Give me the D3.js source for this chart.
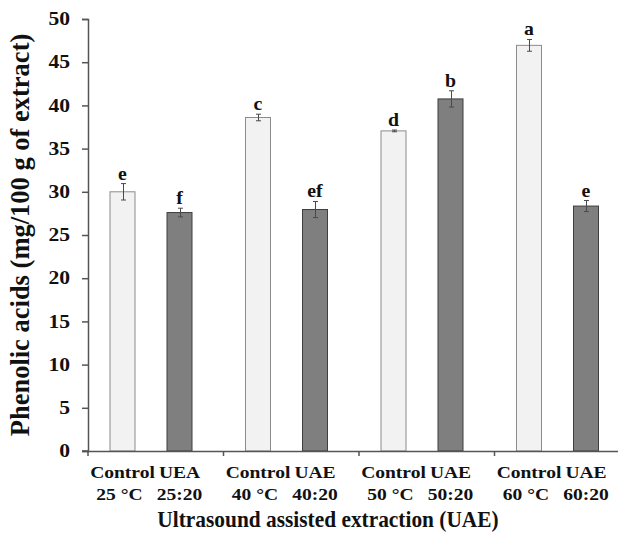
<!DOCTYPE html>
<html><head><meta charset="utf-8">
<script src="https://cdn.jsdelivr.net/npm/d3@7"></script>
<style>
body{margin:0;background:#fff;}
text{font-family:"Liberation Serif","Times New Roman",serif;font-weight:bold;fill:#111;}
</style></head>
<body><svg id="chart" width="618" height="539"></svg>
<script>
const groups = ["25", "40", "50", "60"];
const seriesNames = ["Control", "UAE"];
const line1 = [["Control","UEA"],["Control","UAE"],["Control","UAE"],["Control","UAE"]];
const line2 = [["25 \u00B0C","25:20"],["40 \u00B0C","40:20"],["50 \u00B0C","50:20"],["60 \u00B0C","60:20"]];
const controlValues = [30.0, 38.6, 37.05, 46.95];
const uaeValues = [27.6, 27.95, 40.75, 28.35];
const controlErrors = [0.95, 0.38, 0.1, 0.68];
const uaeErrors = [0.5, 0.93, 0.94, 0.64];
const controlLetters = ["e", "c", "d", "a"];
const uaeLetters = ["f", "ef", "b", "e"];
const yTicks = [0, 5, 10, 15, 20, 25, 30, 35, 40, 45, 50];
const yTitle = "Phenolic acids (mg/100 g of extract)";
const xTitle = "Ultrasound assisted extraction (UAE)";

const svg = d3.select("#chart");
const mLeft = 88, mRight = 630, mTop = 19, mBottom = 451;

const x0 = d3.scaleBand().domain(groups).range([mLeft, mRight]).padding(0);
const x1 = d3.scaleBand().domain(seriesNames).range([22, 104]).paddingInner(32/57).paddingOuter(0);
const y = d3.scaleLinear().domain([0, 50]).range([mBottom, mTop]);

const data = [];
groups.forEach((g, i) => {
  data.push({g, s: "Control", v: controlValues[i], e: controlErrors[i], l: controlLetters[i], t1: line1[i][0], t2: line2[i][0]});
  data.push({g, s: "UAE", v: uaeValues[i], e: uaeErrors[i], l: uaeLetters[i], t1: line1[i][1], t2: line2[i][1]});
});
const fill = {Control: "#f2f2f2", UAE: "#7f7f7f"};
const stroke = {Control: "#8c8c8c", UAE: "#3f3f3f"};
const cxOf = d => x0(d.g) + x1(d.s) + x1.bandwidth() / 2;

// bars
svg.append("g").selectAll("rect").data(data).join("rect")
  .attr("x", d => x0(d.g) + x1(d.s))
  .attr("y", d => y(d.v))
  .attr("width", x1.bandwidth())
  .attr("height", d => y(0) - y(d.v))
  .attr("fill", d => fill[d.s])
  .attr("stroke", d => stroke[d.s])
  .attr("stroke-width", 1);

// error bars
const eb = svg.append("g").attr("stroke", "#4a4a4a").attr("stroke-width", 1);
data.forEach(d => {
  const cx = Math.round(cxOf(d)) + 0.5;
  const yt = y(d.v + d.e), yb = y(d.v - d.e);
  eb.append("line").attr("x1", cx).attr("x2", cx).attr("y1", yt).attr("y2", yb);
  eb.append("line").attr("x1", cx - 2.5).attr("x2", cx + 2.5).attr("y1", yt).attr("y2", yt);
  eb.append("line").attr("x1", cx - 2.5).attr("x2", cx + 2.5).attr("y1", yb).attr("y2", yb);
});

// letters
svg.append("g").selectAll("text").data(data).join("text")
  .attr("transform", d => `translate(${cxOf(d)},${y(d.v + d.e) - 4}) scale(1.1,1)`)
  .attr("text-anchor", "middle")
  .attr("font-size", 18)
  .text(d => d.l);

// y axis
const yAxis = svg.append("g").attr("transform", `translate(${mLeft},0)`)
  .call(d3.axisLeft(y).tickValues(yTicks).tickSize(6).tickPadding(12));
yAxis.select(".domain").attr("stroke", "#555").attr("stroke-width", 1.5);
yAxis.selectAll(".tick line").attr("stroke", "#555").attr("stroke-width", 1.5);
yAxis.selectAll(".tick text")
  .attr("x", null)
  .attr("transform", "translate(-18,0) scale(1.2,1)")
  .attr("font-size", 18).attr("font-family", "Liberation Serif").attr("font-weight", "bold").attr("fill", "#111");

// x axis
const xAxis = svg.append("g").attr("transform", `translate(0,${mBottom})`)
  .call(d3.axisBottom(x0).tickValues([]).tickSizeOuter(0));
xAxis.select(".domain").attr("stroke", "#555").attr("stroke-width", 1.5);
const xt = xAxis.append("g");
[mLeft].concat(groups.map(g => x0(g) + x0.bandwidth())).forEach(px => {
  xt.append("line").attr("x1", px).attr("x2", px).attr("y1", 0).attr("y2", 5).attr("stroke", "#555").attr("stroke-width", 1.5);
});
svg.append("line").attr("x1", mLeft - 6).attr("x2", mLeft).attr("y1", mBottom).attr("y2", mBottom).attr("stroke", "#555").attr("stroke-width", 1.5);

// category labels
const cl = svg.append("g");
data.forEach(d => {
  const cx = cxOf(d);
  cl.append("text").attr("transform", `translate(${cx},478) scale(1.15,1)`).attr("text-anchor", "middle").attr("font-size", 17).text(d.t1);
  cl.append("text").attr("transform", `translate(${cx - (d.s === "Control" ? 3 : 0)},499.5) scale(1.15,1)`).attr("text-anchor", "middle").attr("font-size", 17).text(d.t2);
});

// titles
svg.append("text").attr("transform", "translate(328,527) scale(0.95,1)").attr("text-anchor", "middle").attr("font-size", 22.5).text(xTitle);
svg.append("text").attr("transform", "translate(29,235) rotate(-90)").attr("text-anchor", "middle").attr("font-size", 26.5).text(yTitle);
</script></body></html>
